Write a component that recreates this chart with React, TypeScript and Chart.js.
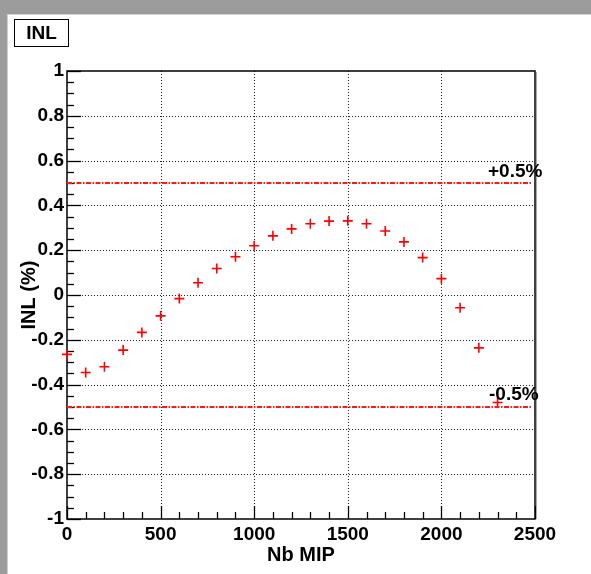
import React, { useEffect, useRef } from "react";
import { Chart, registerables } from "chart.js";
Chart.register(...registerables);

const nbMip = [0, 100, 200, 300, 400, 500, 600, 700, 800, 900, 1000, 1100, 1200, 1300, 1400, 1500, 1600, 1700, 1800, 1900, 2000, 2100, 2200, 2300];
const inlPct = [-0.265, -0.346, -0.32, -0.246, -0.167, -0.093, -0.016, 0.055, 0.118, 0.171, 0.22, 0.264, 0.295, 0.318, 0.33, 0.331, 0.318, 0.286, 0.237, 0.167, 0.073, -0.057, -0.236, -0.48];
const limitX = [0, 2480];
const upperLimit = [0.5, 0.5];
const lowerLimit = [-0.5, -0.5];
const upperLabel = "+0.5%";
const lowerLabel = "-0.5%";
const titleText = "INL";
const xTitle = "Nb MIP";
const yTitle = "INL (%)";

const FONT = '"Liberation Sans", Arial, Helvetica, sans-serif';

const decor = {
  id: "decor",
  beforeDraw(chart: any) {
    const ctx = chart.ctx;
    const W = chart.width, H = chart.height;
    ctx.save();
    ctx.fillStyle = "#ffffff";
    ctx.fillRect(0, 0, W, H);
    ctx.fillStyle = "#9c9c9c";
    ctx.fillRect(0, 0, W, 14);
    ctx.fillRect(0, 0, 7, H);
    ctx.fillStyle = "#d0d0d0";
    ctx.fillRect(7, 14, W - 7, 1);
    ctx.fillRect(7, 14, 1, H - 14);
    ctx.restore();
  },
  beforeDatasetsDraw(chart: any) {
    const ctx = chart.ctx;
    const a = chart.chartArea;
    const xs = chart.scales.x, ys = chart.scales.y;
    ctx.save();
    ctx.strokeStyle = "#222";
    ctx.lineWidth = 1;
    ctx.setLineDash([1, 2]);
    for (let v = 500; v < 2500; v += 500) {
      const px = Math.round(xs.getPixelForValue(v)) + 0.5;
      ctx.beginPath(); ctx.moveTo(px, a.top); ctx.lineTo(px, a.bottom); ctx.stroke();
    }
    for (let k = -4; k <= 4; k++) {
      const py = Math.round(ys.getPixelForValue(k * 0.2)) + 0.5;
      ctx.beginPath(); ctx.moveTo(a.left, py); ctx.lineTo(a.right, py); ctx.stroke();
    }
    ctx.setLineDash([]);
    ctx.strokeStyle = "#000";
    ctx.lineWidth = 1.3;
    for (let k = -20; k <= 20; k++) {
      const py = Math.round(ys.getPixelForValue(k * 0.05)) + 0.5;
      const len = k % 4 === 0 ? 14 : 7;
      ctx.beginPath(); ctx.moveTo(a.left, py); ctx.lineTo(a.left + len, py); ctx.stroke();
    }
    for (let k = 0; k <= 25; k++) {
      const px = Math.round(xs.getPixelForValue(k * 100)) + 0.5;
      const len = k % 5 === 0 ? 13 : 7;
      ctx.beginPath(); ctx.moveTo(px, a.bottom); ctx.lineTo(px, a.bottom - len); ctx.stroke();
    }
    ctx.lineWidth = 1.5;
    ctx.strokeRect(a.left, a.top, a.right - a.left, a.bottom - a.top);
    ctx.strokeStyle = "#aaaaaa";
    ctx.lineWidth = 1;
    ctx.beginPath(); ctx.moveTo(a.right + 1.5, a.top + 1); ctx.lineTo(a.right + 1.5, a.bottom); ctx.stroke();
    ctx.restore();
  },
  afterDraw(chart: any) {
    const ctx = chart.ctx;
    const a = chart.chartArea;
    const ys = chart.scales.y;
    ctx.save();
    ctx.fillStyle = "#000";
    ctx.strokeStyle = "#000";
    ctx.lineWidth = 1;
    ctx.strokeRect(14.5, 19.5, 54, 27);
    ctx.font = `bold 19px ${FONT}`;
    ctx.textAlign = "center";
    ctx.textBaseline = "middle";
    ctx.fillText(titleText, 41.5, 33.5);
    ctx.font = `bold 20px ${FONT}`;
    ctx.fillText(xTitle, (a.left + a.right) / 2, 555);
    ctx.save();
    ctx.translate(29, (a.top + a.bottom) / 2);
    ctx.rotate(-Math.PI / 2);
    ctx.fillText(yTitle, 0, 0);
    ctx.restore();
    ctx.font = `bold 19px ${FONT}`;
    ctx.textAlign = "left";
    ctx.fillText(upperLabel, 488, ys.getPixelForValue(0.5) - 11);
    ctx.fillText(lowerLabel, 489, ys.getPixelForValue(-0.5) - 12);
    ctx.restore();
  },
};

const limitStyle = {
  showLine: true,
  borderColor: "#ff1a1a",
  borderWidth: 2,
  borderDash: [5, 1.5, 1.5, 1.5],
  pointRadius: 0,
  clip: false,
};

export default function App() {
  const ref = useRef<HTMLCanvasElement | null>(null);
  useEffect(() => {
    if (!ref.current) return;
    const chart = new Chart(ref.current, {
      type: "scatter",
      data: {
        datasets: [
          { label: upperLabel, data: limitX.map((x, i) => ({ x, y: upperLimit[i] })), ...limitStyle } as any,
          { label: lowerLabel, data: limitX.map((x, i) => ({ x, y: lowerLimit[i] })), ...limitStyle } as any,
          {
            label: titleText,
            data: nbMip.map((x, i) => ({ x, y: inlPct[i] })),
            pointStyle: "cross",
            pointRadius: 5,
            pointBorderColor: "#ff0000",
            pointBorderWidth: 1.6,
            pointBackgroundColor: "#ff0000",
            showLine: false,
            clip: false,
          } as any,
        ],
      },
      options: {
        responsive: false,
        animation: false,
        devicePixelRatio: 1,
        layout: { padding: { top: 71, right: 56, left: 0, bottom: 0 } },
        plugins: { legend: { display: false }, tooltip: { enabled: false }, title: { display: false } },
        scales: {
          x: {
            type: "linear",
            min: 0,
            max: 2500,
            grid: { display: false, drawTicks: false },
            border: { display: false },
            ticks: {
              stepSize: 500,
              padding: 4,
              color: "#000",
              maxRotation: 0,
              autoSkip: false,
              font: { family: FONT, size: 19, weight: "bold" },
              callback: (v: any) => String(Math.round(Number(v))),
            },
            afterFit(scale: any) { scale.height = 55; },
          },
          y: {
            type: "linear",
            min: -1,
            max: 1,
            grid: { display: false, drawTicks: false },
            border: { display: false },
            ticks: {
              stepSize: 0.2,
              padding: 3,
              color: "#000",
              autoSkip: false,
              font: { family: FONT, size: 19, weight: "bold" },
              callback: (v: any) => String(Number(Number(v).toFixed(1))),
            },
            afterFit(scale: any) { scale.width = 67; },
          },
        },
      } as any,
      plugins: [decor],
    });
    return () => chart.destroy();
  }, []);
  return (
    <div style={{ position: "absolute", left: 0, top: 0, width: 591, height: 574 }}>
      <canvas ref={ref} width={591} height={574} style={{ display: "block" }} />
    </div>
  );
}
